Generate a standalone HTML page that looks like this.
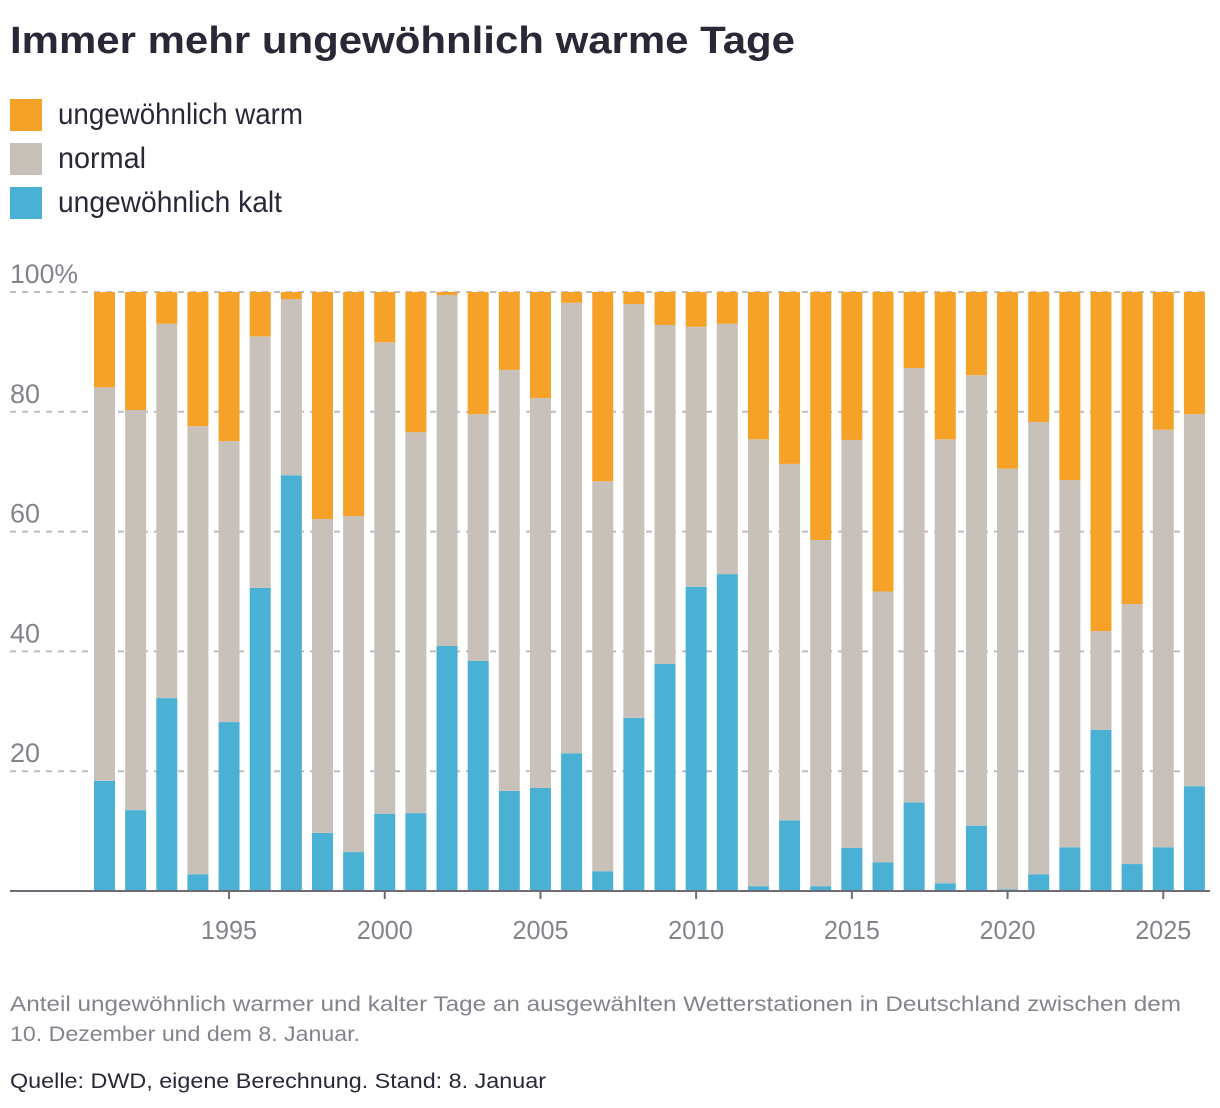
<!DOCTYPE html>
<html><head><meta charset="utf-8"><style>
body{margin:0;background:#fff;width:1220px;height:1108px;overflow:hidden;font-family:"Liberation Sans",sans-serif}
svg{position:absolute;left:0;top:0}
</style></head><body>
<svg id="c" width="1220" height="1108">
<text x="10" y="53" font-weight="bold" font-size="38" fill="#2a2837" textLength="785" lengthAdjust="spacingAndGlyphs">Immer mehr ungewöhnlich warme Tage</text>
<g>
<rect x="10" y="99" width="32" height="32" fill="#f6a128"/>
<text x="58" y="124" font-size="30" fill="#2a2837" textLength="245" lengthAdjust="spacingAndGlyphs">ungewöhnlich warm</text>
<rect x="10" y="143" width="32" height="32" fill="#c8c1b9"/>
<text x="58" y="168" font-size="30" fill="#2a2837" textLength="88" lengthAdjust="spacingAndGlyphs">normal</text>
<rect x="10" y="187" width="32" height="32" fill="#4ab1d5"/>
<text x="58" y="212" font-size="30" fill="#2a2837" textLength="224" lengthAdjust="spacingAndGlyphs">ungewöhnlich kalt</text>
</g>
<g id="grid"></g><g id="bars"></g><g id="ax"></g>
<text x="10" y="1011" font-size="21" fill="#85828c" textLength="1171" lengthAdjust="spacingAndGlyphs">Anteil ungewöhnlich warmer und kalter Tage an ausgewählten Wetterstationen in Deutschland zwischen dem</text>
<text x="10" y="1041" font-size="21" fill="#85828c" textLength="350" lengthAdjust="spacingAndGlyphs">10. Dezember und dem 8. Januar.</text>
<text x="10" y="1088" font-size="21" fill="#2a2837" textLength="536" lengthAdjust="spacingAndGlyphs">Quelle: DWD, eigene Berechnung. Stand: 8. Januar</text>
</svg>
<script>
const years=[1991,1992,1993,1994,1995,1996,1997,1998,1999,2000,2001,2002,2003,2004,2005,2006,2007,2008,2009,2010,2011,2012,2013,2014,2015,2016,2017,2018,2019,2020,2021,2022,2023,2024,2025,2026];
const cold=[18.4,13.5,32.2,2.8,28.2,50.6,69.4,9.7,6.5,12.9,13.0,40.9,38.4,16.7,17.2,23.0,3.3,28.9,37.9,50.8,52.9,0.8,11.8,0.8,7.2,4.8,14.8,1.3,10.9,0.3,2.8,7.3,26.9,4.5,7.3,17.5];
const warm=[15.9,19.7,5.3,22.4,24.9,7.4,1.2,37.9,37.4,8.4,23.4,0.5,20.4,13.0,17.7,1.8,31.6,2.0,5.5,5.8,5.3,24.6,28.7,41.4,24.7,50.0,12.7,24.6,13.9,29.5,21.7,31.4,56.6,52.1,23.0,20.4];
const yTicks=[20,40,60,80,100];
const xTicks=[1995,2000,2005,2010,2015,2020,2025];
const NS='http://www.w3.org/2000/svg';
const y=v=>891-v*5.99;
const x=yr=>104.5+(yr-1991)*31.14;
function mk(t,a,p){const e=document.createElementNS(NS,t);for(const k in a)e.setAttribute(k,a[k]);p.appendChild(e);return e;}
const G=document.getElementById('grid'),B=document.getElementById('bars'),A=document.getElementById('ax');
yTicks.forEach(v=>{
 const l=mk('line',{x1:10,x2:1210,y1:y(v),y2:y(v),stroke:'#bfbcc2','stroke-width':2,'stroke-dasharray':'6 6'},G);
 
 
 const t=mk('text',{x:10,y:y(v)-9,'font-size':27,fill:'#85828c'},A);
 t.textContent=v==100?'100%':v;
 if(v==100){t.setAttribute('textLength',68);t.setAttribute('lengthAdjust','spacingAndGlyphs');}
 
 
});
years.forEach((yr,i)=>{
 const cx=x(yr),w=21,n=100-cold[i]-warm[i];
 const segs=[['cold',0,cold[i],'#4ab1d5'],['normal',cold[i],cold[i]+n,'#c8c1b9'],['warm',cold[i]+n,100,'#f6a128']];
 segs.forEach(s=>{
  const r=mk('rect',{x:cx-w/2,y:y(s[2]),width:w,height:y(s[1])-y(s[2]),fill:s[3]},B);
  
  
 });
});
const ax=mk('line',{x1:10,x2:1210,y1:891,y2:891,stroke:'#6e6b75','stroke-width':2},A);


xTicks.forEach(yr=>{
 const t=mk('text',{x:x(yr),y:939,'font-size':26,fill:'#85828c','text-anchor':'middle',textLength:56,lengthAdjust:'spacingAndGlyphs'},A);
 t.textContent=yr;
 
 
 const tk=mk('line',{x1:x(yr),x2:x(yr),y1:891,y2:899,stroke:'#6e6b75','stroke-width':2},A);
 
 
});
</script>
</body></html>
